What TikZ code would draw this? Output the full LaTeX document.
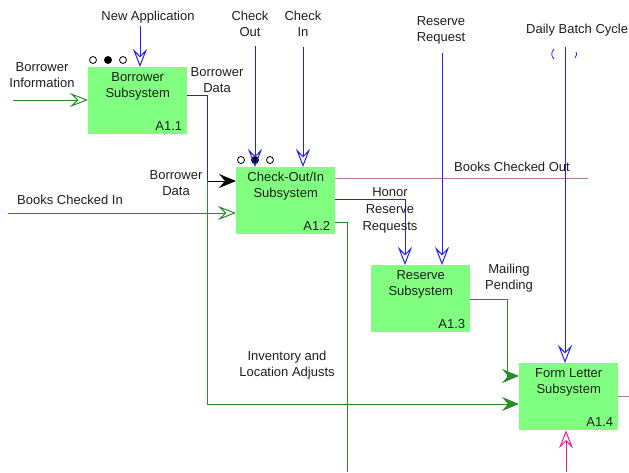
\documentclass[tikz,border=0pt]{standalone}
\usepackage{fontspec}
\setmainfont{Liberation Sans}
\definecolor{idbox}{RGB}{128,255,128}
\definecolor{idblue}{RGB}{30,30,255}
\definecolor{idgreen}{RGB}{40,140,40}
\definecolor{idbrown}{RGB}{176,128,128}
\definecolor{idpink}{RGB}{255,20,140}
\definecolor{idtext}{RGB}{30,30,30}
\usetikzlibrary{arrows.meta,positioning}

\begin{document}
\begin{tikzpicture}[x=1pt,y=-1pt,
  font=\fontsize{13}{16}\selectfont, text=idtext,
  sysbox/.style={fill=idbox, minimum width=99pt, minimum height=67pt, anchor=north west, inner sep=0pt},
  boxtitle/.style={align=center, anchor=north, inner sep=0pt},
  boxnum/.style={inner sep=0pt},
  lbl/.style={align=center, inner sep=0pt},
  flow/.style={line width=1pt},
  ctrl/.style={flow, idblue, -{Stealth[open,length=18pt,width=14pt,inset=7pt]}},
  inflow/.style={flow, idgreen, -{Stealth[open,length=18pt,width=14pt,inset=7pt]}},
  mech/.style={flow, idpink, -{Stealth[open,length=18pt,width=14pt,inset=7pt]}},
  greenfl/.style={flow, idgreen, -{Stealth[length=17pt,width=14pt,inset=6pt]}},
  greenline/.style={flow, idgreen},
  bluefl/.style={flow, idblue},
  blackfl/.style={flow, black, -{Stealth[length=17pt,width=14pt,inset=6pt]}},
  outbrown/.style={flow, idbrown},
  dot/.style={draw=black, line width=0.8pt}
  ]
  \useasboundingbox (0,0) rectangle (629,472);

  % Activity boxes
  \node[sysbox] (borrower) at (88,67) {};
  \node[boxtitle, below=5pt of borrower.north] {Borrower\\Subsystem};
  \node[boxnum, above left=4pt and 5pt of borrower.south east] {A1.1};

  \node[sysbox] (checkio) at (236,167) {};
  \node[boxtitle, below=5pt of checkio.north] {Check-Out/In\\Subsystem};
  \node[boxnum, above left=4pt and 5pt of checkio.south east] {A1.2};

  \node[sysbox] (reserve) at (371,265) {};
  \node[boxtitle, below=5pt of reserve.north] {Reserve\\Subsystem};
  \node[boxnum, above left=4pt and 5pt of reserve.south east] {A1.3};

  \node[sysbox] (formletter) at (519,363) {};
  \node[boxtitle, below=5pt of formletter.north] {Form Letter\\Subsystem};
  \node[boxnum, above left=4pt and 5pt of formletter.south east] {A1.4};

  % Call dots
  \draw[dot] (93,60) circle (3.5pt);
  \draw[dot, fill=black] (108,60) circle (3.5pt);
  \draw[dot] (123,60) circle (3.5pt);
  \draw[dot] (241,160) circle (3.5pt);
  \draw[dot, fill=black] (255,160) circle (3.5pt);
  \draw[dot] (270,160) circle (3.5pt);

  % Bend points and free ends
  \coordinate (biStart) at (13,100);
  \coordinate (naStart) at (140,26);
  \coordinate (bdRow) at (0,95);
  \coordinate (bdTurn) at (207,181);
  \coordinate (invRow) at (0,404);
  \coordinate (bciStart) at (8,213);
  \coordinate (coStart) at (255,46);
  \coordinate (ciStart) at (303,47);
  \coordinate (bcoEnd) at (588,178);
  \coordinate (hrTurn) at (405,199);
  \coordinate (rrStart) at (442,53);
  \coordinate (dbStart) at (565,47);
  \coordinate (ilRow) at (0,222);
  \coordinate (ilEnd) at (347,472);
  \coordinate (mpRow) at (0,299);
  \coordinate (mpTurn) at (507,376);
  \coordinate (flOut) at (629,396);
  \coordinate (mechStart) at (566,472);

  % Arrows
  \draw[inflow] (biStart) -- (biStart -| borrower.west);
  \draw[ctrl] (naStart) -- (naStart |- borrower.north);
  \draw[bluefl] (borrower.east |- bdRow) -| (bdTurn);
  \draw[blackfl] (bdTurn) -- (bdTurn -| checkio.west);
  \draw[greenfl] (bdTurn) |- (formletter.west |- invRow);
  \draw[inflow] (bciStart) -- (bciStart -| checkio.west);
  \draw[ctrl] (coStart) -- (coStart |- checkio.north);
  \draw[ctrl] (ciStart) -- (ciStart |- checkio.north);
  \draw[outbrown] (bcoEnd -| checkio.east) -- (bcoEnd);
  \draw[ctrl] (hrTurn -| checkio.east) -| (hrTurn |- reserve.north);
  \draw[ctrl] (rrStart) -- (rrStart |- reserve.north);
  \draw[ctrl] (dbStart) -- (dbStart |- formletter.north);
  \draw[idblue, line width=0.8pt] (554,49) .. controls (551,52) and (551,56) .. (554,59);
  \draw[idblue, line width=0.8pt] (576,52) .. controls (577,54) .. (575,58);
  \draw[greenline] (checkio.east |- ilRow) -| (ilEnd);
  \draw[greenfl] (reserve.east |- mpRow) -| (mpTurn) -- (mpTurn -| formletter.west);
  \draw[outbrown] (flOut -| formletter.east) -- (flOut);
  \draw[mech] (mechStart) -- (mechStart |- formletter.south);

  % Labels
  \node[lbl] (bilbl) at (42,75) {Borrower\\Information};
  \node[lbl] (nalbl) at (148,17) {New Application};
  \node[lbl] (bdlbl) at (217,80) {Borrower\\Data};
  \node[lbl] (colbl) at (250,24) {Check\\Out};
  \node[lbl] (cilbl) at (303,24) {Check\\In};
  \node[lbl] (rrlbl) at (441,30) {Reserve\\Request};
  \node[lbl, anchor=west] (dblbl) at (526,30) {Daily Batch Cycle};
  \node[lbl] (bd2lbl) at (176,183) {Borrower\\Data};
  \node[lbl] (bcilbl) at (70,200) {Books Checked In};
  \node[lbl] (bcolbl) at (512,167) {Books Checked Out};
  \node[lbl, font=\fontsize{13}{17}\selectfont] (hrlbl) at (390,210) {Honor\\Reserve\\Requests};
  \node[lbl] (mplbl) at (509,278) {Mailing\\Pending};
  \node[lbl] (illbl) at (287,365) {Inventory and\\Location Adjusts};
\end{tikzpicture}
\end{document}
